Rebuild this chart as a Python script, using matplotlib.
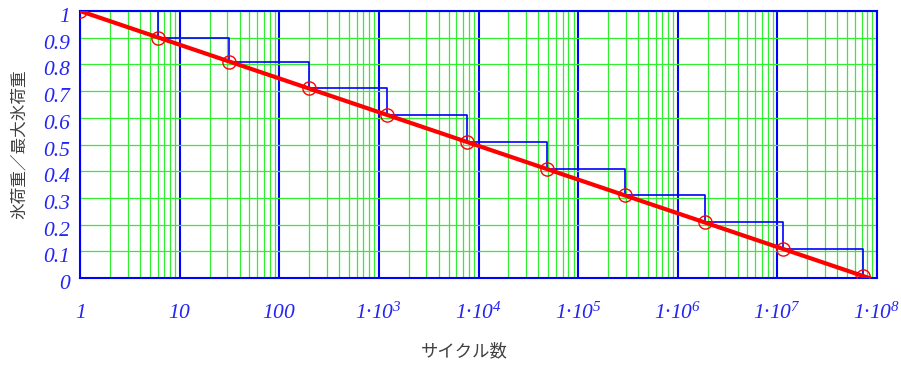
import numpy as np
import matplotlib
matplotlib.use('Agg')
import matplotlib.pyplot as plt
import matplotlib.transforms as mtransforms

plt.rcParams['mathtext.fontset'] = 'custom'
plt.rcParams['mathtext.rm'] = 'Liberation Serif:italic'
plt.rcParams['mathtext.it'] = 'Liberation Serif:italic'
plt.rcParams['mathtext.default'] = 'it'

# step points (cycles, load ratio)
cycles = [1, 6.07, 31.3, 199, 1208, 7690, 48900, 2.96e5, 1.88e6, 1.14e7, 7.26e7]
ratio = [1.0, 0.9, 0.81, 0.71, 0.61, 0.51, 0.41, 0.31, 0.21, 0.11, 0.008]

# straight S-N line ends
line_n = [1, 8.3e7]
line_y = [1.0, 0.0]

decades = [1, 10, 100, 1e3, 1e4, 1e5, 1e6, 1e7, 1e8]
xlabels = ['$1$', '$10$', '$100$', '$1·10^{3}$', '$1·10^{4}$', '$1·10^{5}$',
           '$1·10^{6}$', '$1·10^{7}$', '$1·10^{8}$']
yticks = [0, 0.1, 0.2, 0.3, 0.4, 0.5, 0.6, 0.7, 0.8, 0.9, 1]
ylabels = ['0', '0.1', '0.2', '0.3', '0.4', '0.5', '0.6', '0.7', '0.8', '0.9', '1']

blue = '#0000ff'
green = '#30ee30'
tick_col = '#2525f5'

fig = plt.figure(figsize=(9.01, 3.65), dpi=100)
ax = fig.add_axes([80 / 901, 87 / 365, 797 / 901, 267 / 365])

ax.set_xscale('log')
ax.set_xlim(1, 1e8)
ax.set_ylim(0, 1)

minor = [m * d for d in decades[:-1] for m in range(2, 10)]
ax.set_xticks(decades)
ax.set_xticks(minor, minor=True)
ax.set_xticklabels(xlabels)
ax.set_xticklabels([], minor=True)
ax.set_yticks(yticks)
ax.set_yticklabels(ylabels, family='Liberation Serif', style='italic')

ax.xaxis.grid(True, which='major', color=blue, lw=1.5, zorder=1)
ax.xaxis.grid(True, which='minor', color=green, lw=0.9, zorder=0)
ax.yaxis.grid(True, which='major', color=green, lw=0.9, zorder=0)
ax.set_axisbelow(True)

ax.tick_params(axis='both', which='both', length=0, colors=tick_col, labelsize=15.5)
ax.tick_params(axis='x', pad=17)
ax.tick_params(axis='y', pad=7)
off = mtransforms.ScaledTranslation(0, -4 / 100, fig.dpi_scale_trans)
for lab in ax.get_yticklabels():
    lab.set_transform(lab.get_transform() + off)

for s in ax.spines.values():
    s.set_color(blue)
    s.set_linewidth(1.5)

ax.plot(cycles, ratio, drawstyle='steps-post', color=blue, lw=1.2, zorder=3)
ax.plot(line_n, line_y, color='#ff0000', lw=3, zorder=4)
ax.plot(cycles, ratio, 'o', ms=9.5, mfc='none', mec='#ff0000', mew=1, zorder=5)

ax.set_xlabel('サイクル数', family=['Noto Sans CJK JP', 'DejaVu Sans'],
              fontsize=12.5, color='#404040')
ax.xaxis.set_label_coords((464 - 80) / 797, -0.24)
ax.set_ylabel('氷荷重／最大氷荷重', family=['Noto Sans CJK JP', 'DejaVu Sans'],
              fontsize=12, color='#404040')
ax.yaxis.set_label_coords(-(80 - 28) / 797, 0.5)

fig.savefig('out.png', dpi=100)
